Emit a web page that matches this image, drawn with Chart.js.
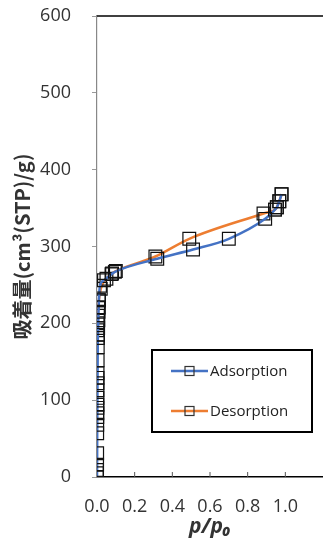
<!DOCTYPE html>
<html>
<head>
<meta charset="utf-8">
<script src="https://cdn.jsdelivr.net/npm/chart.js@4"></script>
<style>
  body { margin: 0; background: #fff; }
  #wrap { width: 323px; height: 544px; }
</style>
</head>
<body>
<div id="wrap"><canvas id="myChart" width="323" height="544"></canvas></div>
<script>
// adsorption branch
const adsX = [0.0001, 0.0002, 0.0003, 0.0005, 0.0008, 0.001, 0.0012, 0.0014, 0.0016, 0.0018, 0.002, 0.0022, 0.0024, 0.0026, 0.0028, 0.003, 0.0035, 0.004, 0.0045, 0.005, 0.006, 0.007, 0.008, 0.009, 0.01, 0.016, 0.037, 0.077, 0.095, 0.32, 0.51, 0.70, 0.893, 0.945, 0.955, 0.968, 0.98];
const adsY = [0, 5, 9, 16, 31, 57, 68, 78, 83, 90, 94, 103, 113, 122, 129, 135, 152, 169, 181, 185, 194, 204, 215, 221, 230, 249, 256, 264, 267, 284, 296, 310, 336, 348, 351, 359, 368];
// desorption branch
const desX = [0.98, 0.968, 0.955, 0.945, 0.884, 0.49, 0.31, 0.1, 0.08, 0.05, 0.02, 0.01, 0.007, 0.005, 0.004, 0.003];
const desY = [368, 359, 351, 348, 343, 310, 287, 268, 265, 258, 245, 230, 220, 210, 200, 191];
const xTicks = [0, 0.2, 0.4, 0.6, 0.8, 1.0];
const yTicks = [0, 100, 200, 300, 400, 500, 600];

const toPts = (xs, ys) => xs.map((x, i) => ({ x: x, y: ys[i] }));

const extras = {
  id: "extras",
  afterDraw(chart) {
    const ctx = chart.ctx;
    const a = chart.chartArea;
    const xs = chart.scales.x;
    ctx.save();
    // top border
    ctx.strokeStyle = "#000";
    ctx.lineWidth = 1.5;
    ctx.beginPath();
    ctx.moveTo(a.left, a.top);
    ctx.lineTo(a.right, a.top);
    ctx.stroke();
    // x tick marks pointing inward
    ctx.lineWidth = 1;
    ctx.strokeStyle = "#555";
    xTicks.forEach((v) => {
      if (v === 0) return;
      const px = xs.getPixelForValue(v);
      ctx.beginPath();
      ctx.moveTo(px, a.bottom);
      ctx.lineTo(px, a.bottom - 5);
      ctx.stroke();
    });
    // legend box
    const bx = 152, by = 350, bw = 160, bh = 82;
    ctx.fillStyle = "#fff";
    ctx.fillRect(bx, by, bw, bh);
    ctx.strokeStyle = "#000";
    ctx.lineWidth = 2;
    ctx.strokeRect(bx, by, bw, bh);
    chart.data.datasets.forEach((ds, i) => {
      const ly = by + 21 + i * 40;
      ctx.strokeStyle = ds.borderColor;
      ctx.lineWidth = 2.5;
      ctx.beginPath();
      ctx.moveTo(bx + 19, ly);
      ctx.lineTo(bx + 56, ly);
      ctx.stroke();
      ctx.strokeStyle = "#333";
      ctx.lineWidth = 1.2;
      ctx.strokeRect(bx + 33, ly - 4.5, 9, 9);
      ctx.fillStyle = "#222";
      ctx.font = "15px 'Open Sans'";
      ctx.textBaseline = "middle";
      ctx.fillText(ds.label, bx + 58, ly + 1);
    });
    ctx.restore();
  }
};

const config = {
  type: "scatter",
  data: {
    datasets: [
      {
        label: "Adsorption",
        data: toPts(adsX, adsY),
        showLine: true,
        borderColor: "#4472C4",
        borderWidth: 2.5,
        cubicInterpolationMode: "monotone",
        pointStyle: "rect",
        pointRadius: 9,
        pointBorderColor: "#111",
        pointBorderWidth: 1.2,
        pointBackgroundColor: "rgba(0,0,0,0)"
      },
      {
        label: "Desorption",
        data: toPts(desX, desY),
        showLine: true,
        borderColor: "#ED7D31",
        borderWidth: 2.5,
        cubicInterpolationMode: "monotone",
        pointStyle: "rect",
        pointRadius: 9,
        pointBorderColor: "#111",
        pointBorderWidth: 1.2,
        pointBackgroundColor: "rgba(0,0,0,0)"
      }
    ]
  },
  options: {
    responsive: false,
    animation: false,
    layout: { autoPadding: false, padding: { top: 16, right: 0, left: 0, bottom: 0 } },
    plugins: { legend: { display: false }, tooltip: { enabled: false } },
    scales: {
      x: {
        type: "linear",
        min: 0,
        max: 1.2,
        afterBuildTicks: (s) => { s.ticks = xTicks.map((v) => ({ value: v })); },
        afterFit: (s) => { s.height = 67; s.paddingLeft = 0; s.paddingRight = 0; },
        border: { color: "#000", width: 1.5 },
        grid: { display: false },
        ticks: {
          color: "#333",
          font: { size: 18, family: "'Open Sans'" },
          padding: 11,
          callback: (v) => v.toFixed(1)
        },
        title: {
          display: true,
          text: "p/p₀",
          color: "#333",
          font: { size: 21, weight: "bold", style: "italic", family: "'Open Sans'" },
          padding: { top: 0 }
        }
      },
      y: {
        min: 0,
        max: 600,
        afterBuildTicks: (s) => { s.ticks = yTicks.map((v) => ({ value: v })); },
        afterFit: (s) => { s.width = 97; s.paddingTop = 0; s.paddingBottom = 0; },
        border: { color: "#888", width: 1.2 },
        grid: { drawOnChartArea: false, tickLength: 5, color: "#999" },
        ticks: {
          color: "#333",
          font: { size: 18, family: "'Open Sans'" },
          padding: 21
        },
        title: {
          display: true,
          text: "吸着量(cm³(STP)/g)",
          color: "#333",
          font: { size: 20, weight: "bold", family: "'Noto Sans CJK JP'" },
          padding: { top: 10, bottom: 0 }
        }
      }
    }
  },
  plugins: [extras]
};

const myChart = new Chart(document.getElementById("myChart"), config);
</script>
</body>
</html>
